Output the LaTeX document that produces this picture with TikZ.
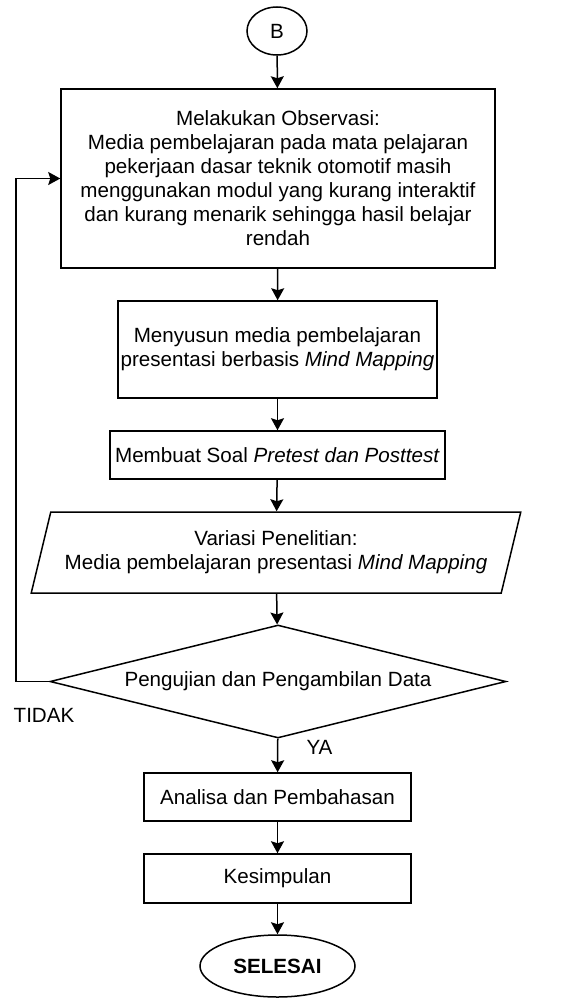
\documentclass[tikz,border=0pt]{standalone}
\usepackage{fontspec}
\setmainfont{Liberation Sans}
\usetikzlibrary{shapes.geometric,arrows.meta}
\begin{document}
\begin{tikzpicture}[x=1pt,y=-1pt,
  every node/.style={font=\fontsize{20.6}{24}\selectfont, align=center, inner sep=0pt},
  box/.style={draw, line width=1.5pt, rectangle},
  arr/.style={line width=1.5pt, -{Stealth[length=12pt,width=13pt,inset=2pt]}},
  lbl/.style={font=\fontsize{20.6}{24}\selectfont}]
\useasboundingbox (0,0) rectangle (561,998);
\node[draw, line width=1.5pt, ellipse, minimum width=60pt, minimum height=48pt] (b) at (277,31) {B};
\node[box, minimum width=434pt, minimum height=179pt] (obs) at (278,178.5) {Melakukan Observasi:\\Media pembelajaran pada mata pelajaran\\pekerjaan dasar teknik otomotif masih\\menggunakan modul yang kurang interaktif\\dan kurang menarik sehingga hasil belajar\\rendah};
\node[box, minimum width=319pt, minimum height=97pt] (sus) at (277.5,349.5) {Menyusun media pembelajaran\\presentasi berbasis \textit{Mind Mapping}};
\node[box, minimum width=335pt, minimum height=48pt] (soal) at (277.5,455) {Membuat Soal \textit{Pretest dan Posttest}};
\node[draw, line width=1.5pt, trapezium, trapezium left angle=67, trapezium right angle=113, trapezium stretches=true, minimum width=492pt, minimum height=81pt] (var) at (276,552.5) {Variasi Penelitian:\\Media pembelajaran presentasi \textit{Mind Mapping}};
\node[draw, line width=1.5pt, diamond, aspect=4.04, minimum width=456pt, minimum height=113pt] (uji) at (278,681.5) {Pengujian dan Pengambilan Data};
\node[box, minimum width=267pt, minimum height=48pt] (ana) at (277.5,797) {Analisa dan Pembahasan};
\node[box, minimum width=267pt, minimum height=49pt] (kes) at (277.5,878.5) {Kesimpulan};
\node[draw, line width=1.5pt, ellipse, minimum width=155pt, minimum height=62pt, font=\fontsize{20.6}{24}\selectfont\bfseries] (sel) at (277.5,966) {SELESAI};
\node[lbl] (tidak) at (44,715) {TIDAK};
\node[lbl] (ya) at (319.5,747) {YA};
\coordinate (lp) at (16,180);
\draw[arr] (b) -- (obs);
\draw[arr] (obs) -- (sus);
\draw[arr] (sus) -- (soal);
\draw[arr] (soal) -- (var);
\draw[arr] (var) -- (uji);
\draw[arr] (uji) -- (ana);
\draw[arr] (ana) -- (kes);
\draw[arr] (kes) -- (sel);
\draw[arr] (uji.west) -- (uji.west -| lp) |- (obs.west);
\end{tikzpicture}
\end{document}
